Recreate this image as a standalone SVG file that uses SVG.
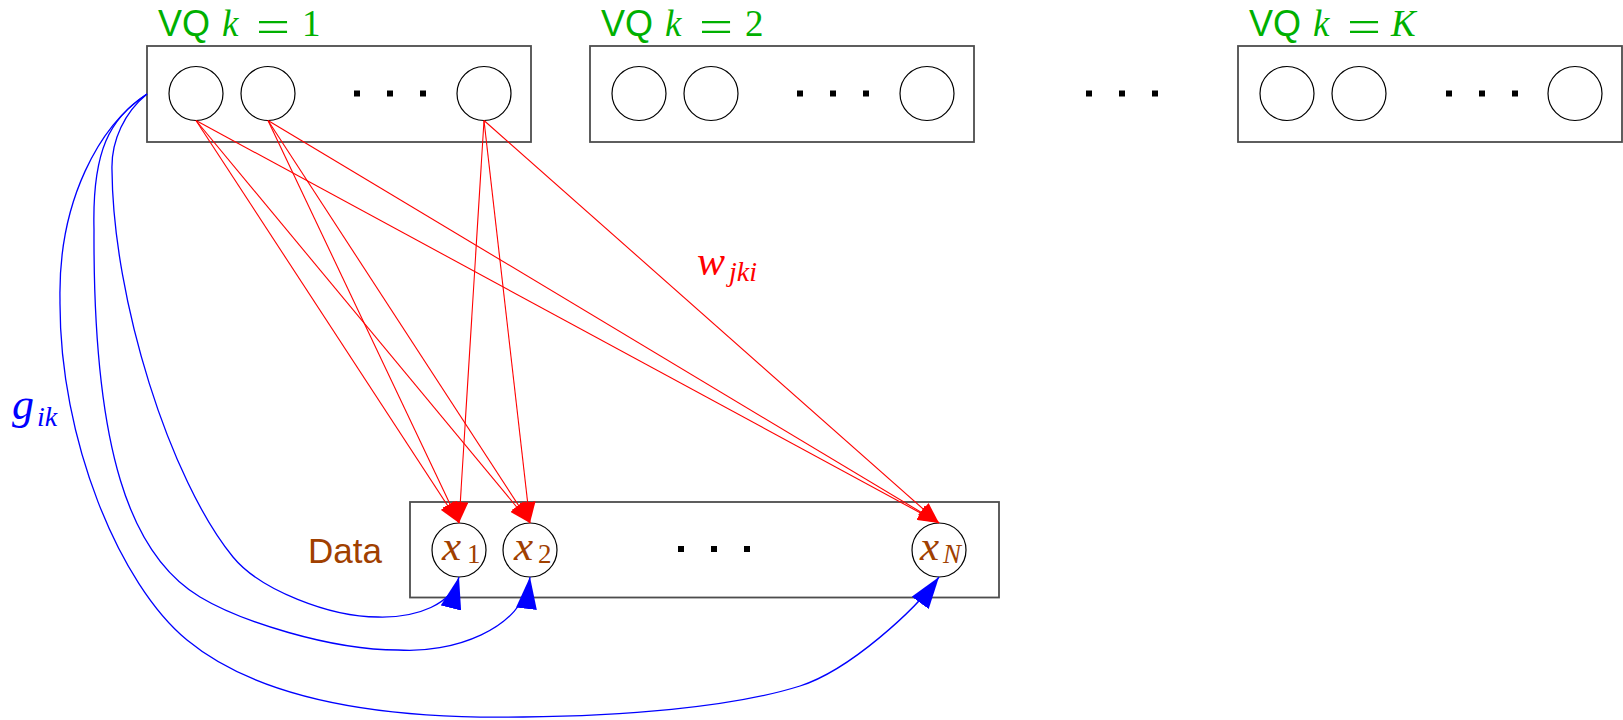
<svg xmlns="http://www.w3.org/2000/svg" width="1623" height="720" viewBox="0 0 1623 720">
<style>
.box{fill:none;stroke:#4d4d4d;stroke-width:1.8}
.nd{fill:none;stroke:#000;stroke-width:1.2}
.dot{fill:#000}
.sf{font-family:"Liberation Sans",Arial,sans-serif;font-size:36px}
.mi{font-family:"Liberation Serif","Times New Roman",serif;font-style:italic;font-size:37px}
.rm{font-family:"Liberation Serif","Times New Roman",serif;font-size:37px}
.eq{font-family:"Liberation Serif","Times New Roman",serif;font-size:46px;text-anchor:middle}
.sub{font-family:"Liberation Serif","Times New Roman",serif;font-size:27px}
.subi{font-family:"Liberation Serif","Times New Roman",serif;font-style:italic;font-size:28px}
.green{fill:#00b000}
.brown{fill:#a04000}
.red{stroke:#ff0000;stroke-width:1.1;fill:none;marker-end:url(#ar)}
.blue{stroke:#0000ff;stroke-width:1.3;fill:none;marker-end:url(#ab)}
</style>
<defs>
<marker id="ar" markerUnits="userSpaceOnUse" viewBox="0 0 21 16" markerWidth="21" markerHeight="16" refX="21" refY="8" orient="auto"><path d="M0,0 L21,8 L0,16 Z" fill="#ff0000"/></marker>
<marker id="ab" markerUnits="userSpaceOnUse" viewBox="0 0 32 21" markerWidth="32" markerHeight="21" refX="32" refY="10.5" orient="auto"><path d="M0,0 L32,10.5 L0,21 Z" fill="#0000ff"/></marker>
</defs>
<rect width="1623" height="720" fill="#fff"/>

<g id="vq1">
<rect class="box" x="147" y="46" width="384" height="96"/>
<circle class="nd" cx="196" cy="93.5" r="27"/>
<circle class="nd" cx="268" cy="93.5" r="27"/>
<circle class="nd" cx="484" cy="93.5" r="27"/>
<rect class="dot" x="354" y="90.5" width="6" height="6"/>
<rect class="dot" x="387" y="90.5" width="6" height="6"/>
<rect class="dot" x="420" y="90.5" width="6" height="6"/>
<text class="green"><tspan class="sf" x="158" y="36">VQ</tspan><tspan class="mi" x="222" y="36">k</tspan><tspan class="rm" x="302" y="36">1</tspan></text>
<text class="green eq" x="273" y="41.5" textLength="34" lengthAdjust="spacingAndGlyphs">=</text>
</g>

<g id="vq2">
<rect class="box" x="590" y="46" width="384" height="96"/>
<circle class="nd" cx="639" cy="93.5" r="27"/>
<circle class="nd" cx="711" cy="93.5" r="27"/>
<circle class="nd" cx="927" cy="93.5" r="27"/>
<rect class="dot" x="797" y="90.5" width="6" height="6"/>
<rect class="dot" x="830" y="90.5" width="6" height="6"/>
<rect class="dot" x="863" y="90.5" width="6" height="6"/>
<text class="green"><tspan class="sf" x="601" y="36">VQ</tspan><tspan class="mi" x="665" y="36">k</tspan><tspan class="rm" x="745" y="36">2</tspan></text>
<text class="green eq" x="716" y="41.5" textLength="34" lengthAdjust="spacingAndGlyphs">=</text>
</g>

<g id="between">
<rect class="dot" x="1086" y="90.5" width="6" height="6"/>
<rect class="dot" x="1119" y="90.5" width="6" height="6"/>
<rect class="dot" x="1152" y="90.5" width="6" height="6"/>
</g>

<g id="vqK">
<rect class="box" x="1238" y="46" width="384" height="96"/>
<circle class="nd" cx="1287" cy="93.5" r="27"/>
<circle class="nd" cx="1359" cy="93.5" r="27"/>
<circle class="nd" cx="1575" cy="93.5" r="27"/>
<rect class="dot" x="1446" y="90.5" width="6" height="6"/>
<rect class="dot" x="1479" y="90.5" width="6" height="6"/>
<rect class="dot" x="1512" y="90.5" width="6" height="6"/>
<text class="green"><tspan class="sf" x="1249" y="36">VQ</tspan><tspan class="mi" x="1313" y="36">k</tspan><tspan class="mi" x="1391" y="36">K</tspan></text>
<text class="green eq" x="1364" y="41.5" textLength="34" lengthAdjust="spacingAndGlyphs">=</text>
</g>

<g id="data">
<rect class="box" x="410" y="502" width="589" height="95.5"/>
<text class="sf brown" x="308" y="563" style="font-size:35px">Data</text>
<circle class="nd" cx="459" cy="550" r="27"/>
<circle class="nd" cx="530" cy="550" r="27"/>
<circle class="nd" cx="939" cy="550" r="27"/>
<rect class="dot" x="678" y="546" width="6" height="6"/>
<rect class="dot" x="711" y="546" width="6" height="6"/>
<rect class="dot" x="744" y="546" width="6" height="6"/>
<text class="brown"><tspan class="mi" x="442" y="560" style="font-size:43px">x</tspan><tspan class="sub" x="467" y="563">1</tspan></text>
<text class="brown"><tspan class="mi" x="514" y="560" style="font-size:43px">x</tspan><tspan class="sub" x="538" y="563">2</tspan></text>
<text class="brown"><tspan class="mi" x="920" y="560" style="font-size:43px">x</tspan><tspan class="subi" x="943" y="563" style="font-size:27px">N</tspan></text>
</g>

<g id="connectors">
<path class="red" d="M196,120.5 L459,523"/>
<path class="red" d="M196,120.5 L530,523"/>
<path class="red" d="M196,120.5 L939,523"/>
<path class="red" d="M268,120.5 L459,523"/>
<path class="red" d="M268,120.5 L530,523"/>
<path class="red" d="M268,120.5 L939,523"/>
<path class="red" d="M484,120.5 L459,523"/>
<path class="red" d="M484,120.5 L530,523"/>
<path class="red" d="M484,120.5 L939,523"/>

<path class="blue" d="M147,94 C125,112 111,140 112,170 C113,300 170,480 233,557 C260,590 330,617 378,617 C418,618 452,604 459,577"/>
<path class="blue" d="M147,94 C110,118 92,150 94,230 C93,450 130,555 200,597 C240,621 330,650 398,650 C450,654 524,630 530,577"/>
<path class="blue" d="M147,94 C100,125 58,200 60,300 C59,440 120,585 187,640 C250,692 360,720 523,717 C620,716 730,708 800,686 C850,670 915,610 939,577"/>
</g>

<g id="labels">
<text fill="#ff0000"><tspan class="mi" x="697" y="275" style="font-size:42px">w</tspan><tspan class="subi" x="729" y="281">jki</tspan></text>
<text fill="#0000ff"><tspan class="mi" x="12" y="419" style="font-size:44px">g</tspan><tspan class="subi" x="37" y="426">ik</tspan></text>
</g>
</svg>
